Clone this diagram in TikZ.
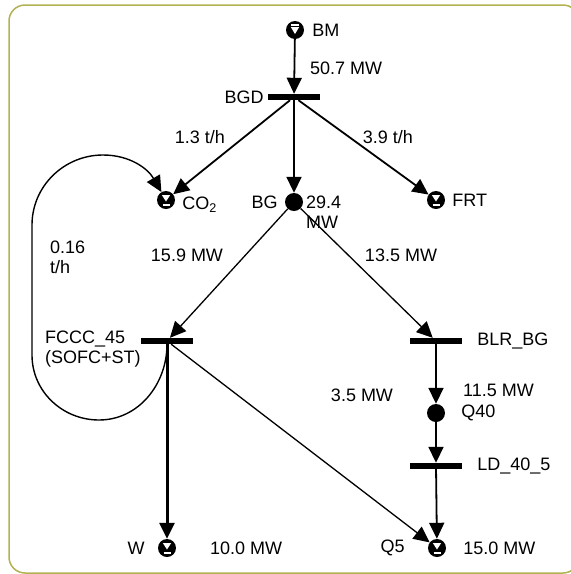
\documentclass[tikz,border=0pt]{standalone}
\usepackage{fontspec}
\setmainfont{Liberation Sans}
\usetikzlibrary{arrows.meta,positioning}
\definecolor{frameolive}{RGB}{178,178,82}
\begin{document}
\begin{tikzpicture}[
  x=1pt, y=1pt,
  font=\fontsize{18}{20.5}\selectfont,
  node distance=8pt,
  dot/.style={
    circle,
    fill,
    minimum size=18pt,
    inner sep=0pt
  },
  sink/.style={
    dot,
    path picture={
      \fill[white] ([shift={(-4.2pt,5pt)}]path picture bounding box.center) -- ++(8.4pt,0pt) -- ++(-4.2pt,-6.5pt) -- cycle;
      \draw[white, line width=1.2pt] ([shift={(-3.5pt,-5pt)}]path picture bounding box.center) -- ++(7pt,0pt);
    }
  },
  source/.style={
    dot,
    path picture={
      \draw[white, line width=1.2pt] ([shift={(-4pt,5pt)}]path picture bounding box.center) -- ++(8pt,0pt);
      \fill[white] ([shift={(-4.2pt,3pt)}]path picture bounding box.center) -- ++(8.4pt,0pt) -- ++(-4.2pt,-7pt) -- cycle;
    }
  },
  bar/.style={
    fill,
    minimum width=52pt,
    minimum height=6pt,
    inner sep=0pt
  },
  lbl/.style={inner sep=0pt, align=left},
  arrow/.style={-{Triangle[length=16pt,width=15pt]}, line width=1.8pt},
  thinarrow/.style={arrow, line width=1.3pt},
  thickarrow/.style={arrow, line width=3pt},
  frame/.style={draw=frameolive, line width=1.5pt, rounded corners=16pt}
]
\useasboundingbox (0,0) rectangle (571,-574);
\draw[frame] (9,-5) rectangle (579,-573);

\node[source] (bm) at (295,-30) {};
\node[lbl, right=8pt of bm] (bmlbl) {BM};
\node[bar] (bgd) at (294,-97) {};
\node[lbl, left=4pt of bgd] (bgdlbl) {BGD};
\node[lbl, anchor=west] (bmflow) at (310,-68) {50.7 MW};

\node[sink] (co2) at (166,-200) {};
\node[lbl, right=7pt of co2, yshift=-5pt] (co2lbl) {CO\textsubscript{2}};
\node[dot] (bg) at (294,-202) {};
\node[lbl, left=7pt of bg] (bglbl) {BG};
\node[lbl, anchor=north west] (bgflow) at (306,-195.5) {29.4\\MW};
\node[sink] (frt) at (436,-200) {};
\node[lbl, right=7pt of frt] (frtlbl) {FRT};
\node[lbl] (co2flow) at (200,-137) {1.3 t/h};
\node[lbl] (frtflow) at (388,-137) {3.9 t/h};

\node[lbl] (fcccflow) at (187,-255) {15.9 MW};
\node[lbl] (blrflow) at (401,-255) {13.5 MW};
\node[lbl, anchor=north west] (loopflow) at (50,-240.5) {0.16\\t/h};

\node[bar] (fccc) at (167,-341) {};
\node[lbl, anchor=north west] (fccclbl) at (45,-330.5) {FCCC\_45\\(SOFC+ST)};
\node[bar] (blr) at (436,-341) {};
\node[lbl, right=15pt of blr] (blrlbl) {BLR\_BG};

\node[lbl, anchor=west] (q40flow) at (463,-390) {11.5 MW};
\node[dot] (q40) at (436,-413) {};
\node[lbl, right=16pt of q40] (q40lbl) {Q40};
\node[bar] (ld) at (436,-466) {};
\node[lbl, right=15pt of ld] (ldlbl) {LD\_40\_5};
\node[lbl] (q5flow) at (362,-395) {3.5 MW};

\node[sink] (w) at (167,-548) {};
\node[lbl, left=13pt of w] (wlbl) {W};
\node[lbl, anchor=west] (wflow) at (210,-548) {10.0 MW};
\node[sink] (q5) at (437,-548) {};
\node[lbl, left=23pt of q5] (q5lbl) {Q5};
\node[lbl, right=17pt of q5] (q5total) {15.0 MW};

\draw[arrow] (bm) -- (bgd);
\draw[arrow] (bgd) -- (co2);
\draw[arrow] (bgd) -- (bg);
\draw[arrow] (bgd) -- (frt);
\draw[thinarrow] (bg) -- (fccc);
\draw[thinarrow] (bg) -- (blr);
\draw[thickarrow] (fccc) -- (w);
\draw[thinarrow] (fccc) -- (q5);
\draw[arrow] (blr) -- (q40);
\draw[arrow] (q40) -- (ld);
\draw[arrow] (ld) -- (q5);
\draw[arrow, line width=1.4pt] (fccc.south) to[out=-90, in=0] (99,-420) to[out=180, in=-90] (32,-355)
  -- (32,-225) to[out=90, in=180] (103,-155) to[out=0, in=120] (co2);
\end{tikzpicture}
\end{document}
